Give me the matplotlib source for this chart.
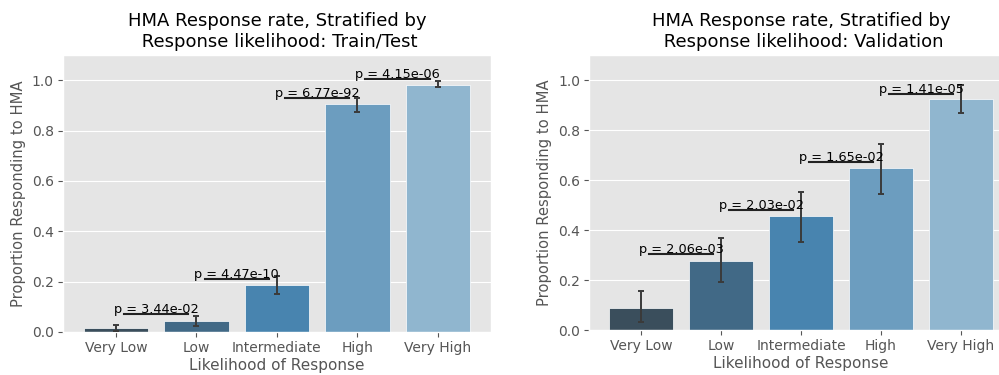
#!/usr/bin/env python3

import matplotlib
matplotlib.use("Agg")
import matplotlib.pyplot as plt
import seaborn as sns

plt.style.use("ggplot")

categories = ["Very Low", "Low", "Intermediate", "High", "Very High"]

# Train/Test panel
tt_rate = [0.016, 0.044, 0.187, 0.905, 0.980]
tt_lo = [0.004, 0.024, 0.151, 0.873, 0.972]
tt_hi = [0.028, 0.063, 0.222, 0.929, 0.996]
tt_pvals = ["p = 3.44e-02", "p = 4.47e-10", "p = 6.77e-92", "p = 4.15e-06"]
tt_line_y = [0.071, 0.210, 0.929, 1.004]

# Validation panel
val_rate = [0.088, 0.276, 0.456, 0.648, 0.924]
val_lo = [0.032, 0.192, 0.352, 0.544, 0.868]
val_hi = [0.156, 0.368, 0.552, 0.744, 0.980]
val_pvals = ["p = 2.06e-03", "p = 2.03e-02", "p = 1.65e-02", "p = 1.41e-05"]
val_line_y = [0.304, 0.480, 0.672, 0.944]

# seaborn's Blues_d (dark to light) with the default barplot saturation
colors = [sns.desaturate(c, 0.75) for c in sns.color_palette("Blues_d", 5)][::-1]


def draw_panel(ax, rate, lo, hi, pvals, line_y, title, xpad):
    x = list(range(len(categories)))
    yerr = [[r - l for r, l in zip(rate, lo)], [h - r for r, h in zip(rate, hi)]]
    ax.bar(x, rate, width=0.8, color=colors, edgecolor="white", linewidth=0.5, zorder=2)
    ax.errorbar(x, rate, yerr=yerr, fmt="none", ecolor="#3a3a3a", elinewidth=1.4,
                capsize=2.5, capthick=1.4, zorder=3)

    # significance brackets between neighbouring bars
    for i, (txt, ly) in enumerate(zip(pvals, line_y)):
        ax.plot([i + 0.1, i + 0.9], [ly, ly], color="#222222", linewidth=1.5, zorder=4)
        ax.text(i + 0.5, ly - 0.008, txt, ha="center", va="bottom", fontsize=9.3,
                color="black", zorder=5)

    ax.set_xticks(x)
    ax.set_xticklabels(categories)
    ax.set_xlim(-xpad, len(categories) - 1 + xpad)
    ax.set_ylim(0, 1.1)
    ax.set_yticks([0.0, 0.2, 0.4, 0.6, 0.8, 1.0])
    ax.set_xlabel("Likelihood of Response", fontsize=11, color="#555555", labelpad=2)
    ax.set_ylabel("Proportion Responding to HMA", fontsize=10.6, color="#555555")
    ax.set_title(title, fontsize=13, color="black", pad=6)
    ax.tick_params(axis="both", labelsize=10, colors="#555555", pad=3)
    ax.grid(axis="x", visible=False)


fig = plt.figure(figsize=(9.99, 3.75), dpi=100)
fig.patch.set_facecolor("white")

ax1 = fig.add_axes([0.063, 0.1147, 0.4284, 0.7387])
draw_panel(ax1, tt_rate, tt_lo, tt_hi, tt_pvals, tt_line_y,
           "HMA Response rate, Stratified by\n Response likelihood: Train/Test", 0.66)

ax2 = fig.add_axes([0.5896, 0.12, 0.4244, 0.7333])
draw_panel(ax2, val_rate, val_lo, val_hi, val_pvals, val_line_y,
           "HMA Response rate, Stratified by\n Response likelihood: Validation", 0.65)

plt.savefig("out.png", dpi=100)
